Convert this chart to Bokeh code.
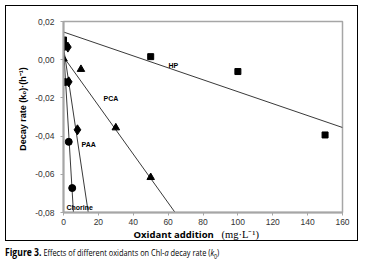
import math
from bokeh.plotting import figure
from bokeh.models import Range1d, FixedTicker, Label, Div
from bokeh.layouts import column
from bokeh.embed import file_html
from bokeh.resources import INLINE

# ---------------- data ----------------
hp_x = [0, 0, 50, 100, 150]
hp_y = [0.0103, 0.0088, 0.0016, -0.0062, -0.0394]
hp_fit_x = [0, 160]
hp_fit_y = [0.0145, -0.0355]

pca_x = [0, 10, 30, 50]
pca_y = [0.0005, -0.0050, -0.0356, -0.0616]
pca_fit_x = [0, 64]
pca_fit_y = [0.0015, -0.08]

paa_x = [2.5, 3, 8]
paa_y = [0.0066, -0.0116, -0.0367]
paa_fit_x = [0, 14.2]
paa_fit_y = [0.0066, -0.08]

cl_x = [0, 1, 3, 5]
cl_y = [0.0066, -0.0117, -0.0430, -0.0672]
cl_fit_x = [0, 5.7]
cl_fit_y = [0.0066, -0.08]

x_ticks = [0, 20, 40, 60, 80, 100, 120, 140, 160]
y_ticks = [-0.08, -0.06, -0.04, -0.02, 0.0, 0.02]
y_tick_labels = ["-0,08", "-0,06", "-0,04", "-0,02", "0,00", "0,02"]

# ---------------- layout ----------------
W, H = 363, 247
FL, FR, FT, FB = 63, 342, 21, 212   # frame edges in canvas px

box_css = (":host::after { content: ''; position: absolute; left: 5px; top: 5px; "
           "width: 353px; height: 236px; box-sizing: border-box; "
           "border: 1.5px solid black; pointer-events: none; z-index: 50; }")

p = figure(width=W, height=H, output_backend="svg", toolbar_location=None,
           x_range=Range1d(0, 160), y_range=Range1d(-0.08, 0.02),
           min_border_left=FL, min_border_right=W - FR,
           min_border_top=FT, min_border_bottom=H - FB,
           title_location=None, stylesheets=[box_css])
p.background_fill_color = "white"
p.border_fill_color = "white"
p.grid.visible = False
p.outline_line_color = "#a6a6a6"
p.outline_line_width = 1.5

XS = (FR - FL) / 160.0
YS = (FB - FT) / 0.1
def dx(px):
    return (px - FL) / XS
def dy(py):
    return 0.02 - (py - FT) / YS

for ax in (p.xaxis, p.yaxis):
    ax.axis_line_color = "#a6a6a6"
    ax.axis_line_width = 2
    ax.major_tick_line_color = "#a6a6a6"
    ax.major_tick_in = 0
    ax.major_tick_out = 3
    ax.minor_tick_line_color = None
    ax.major_label_text_font = "Liberation Sans"
    ax.major_label_text_font_size = "8.5px"
    ax.major_label_text_color = "#333333"

p.xaxis.ticker = FixedTicker(ticks=x_ticks)
p.xaxis.major_label_standoff = 3
p.yaxis.ticker = FixedTicker(ticks=y_ticks)
p.yaxis.major_label_overrides = {t: l for t, l in zip(y_ticks, y_tick_labels)}
p.yaxis.major_label_standoff = 6

# fitted lines
for fx, fy in ((hp_fit_x, hp_fit_y), (pca_fit_x, pca_fit_y),
               (paa_fit_x, paa_fit_y), (cl_fit_x, cl_fit_y)):
    p.line(fx, fy, line_color="#222222", line_width=0.9)

# points
p.scatter(hp_x, hp_y, marker="square", size=6, color="black")
p.scatter(pca_x, pca_y, marker="triangle", size=7.5, color="black")
p.scatter(paa_x, paa_y, marker="diamond", size=10, color="black")
p.scatter(cl_x, cl_y, marker="circle", size=7, color="black")

def in_label(txt, px, py):
    p.add_layout(Label(x=dx(px), y=dy(py), text=txt, text_font="Liberation Sans",
                       text_font_size="7px", text_font_style="bold",
                       text_align="left", text_baseline="middle", text_color="black"))

in_label("HP", 168, 65)
in_label("PCA", 103, 97.5)
in_label("PAA", 81, 144)
in_label("Chorine", 66, 207)

# outside texts placed in side panels (positions via the frame scales)
def out_label(side, txt, px, py, font, size, style="normal", angle=0.0, align="left"):
    p.add_layout(Label(x=dx(px), y=dy(py), text=txt, text_font=font,
                       text_font_size=size, text_font_style=style, angle=angle,
                       text_align=align, text_baseline="middle", text_color="black"),
                 side)

out_label("left", "Decay rate (k\u2080)\u00b7(h\u207b\u00b9)", 22, 108.5,
          "Liberation Sans", "9px", "bold", math.pi / 2, "center")
out_label("below", "Oxidant addition", 133, 234, "Open Sans", "9.5px", "bold")
out_label("above", "(mg\u00b7L\u207b\u00b9)", 221, 234, "Liberation Serif", "10.5px")

caption = Div(
    text=('<span style="display:inline-block;transform:scaleX(0.82);'
          'transform-origin:left center">'
          '<span style="font-weight:bold;font-size:10.5px">Figure 3.</span> '
          'Effects of different oxidants on Chl-<i>a</i> decay rate '
          '(<i>k</i><sub style="font-size:6.5px">0</sub>)</span>'),
    width=340, height=16, margin=(0, 0, 0, 5),
    styles={"font-family": "Open Sans", "font-size": "9px", "line-height": "11px",
            "color": "black", "white-space": "nowrap"})

layout = column(p, caption, spacing=0)
open("out.html", "w").write(file_html(layout, INLINE))
